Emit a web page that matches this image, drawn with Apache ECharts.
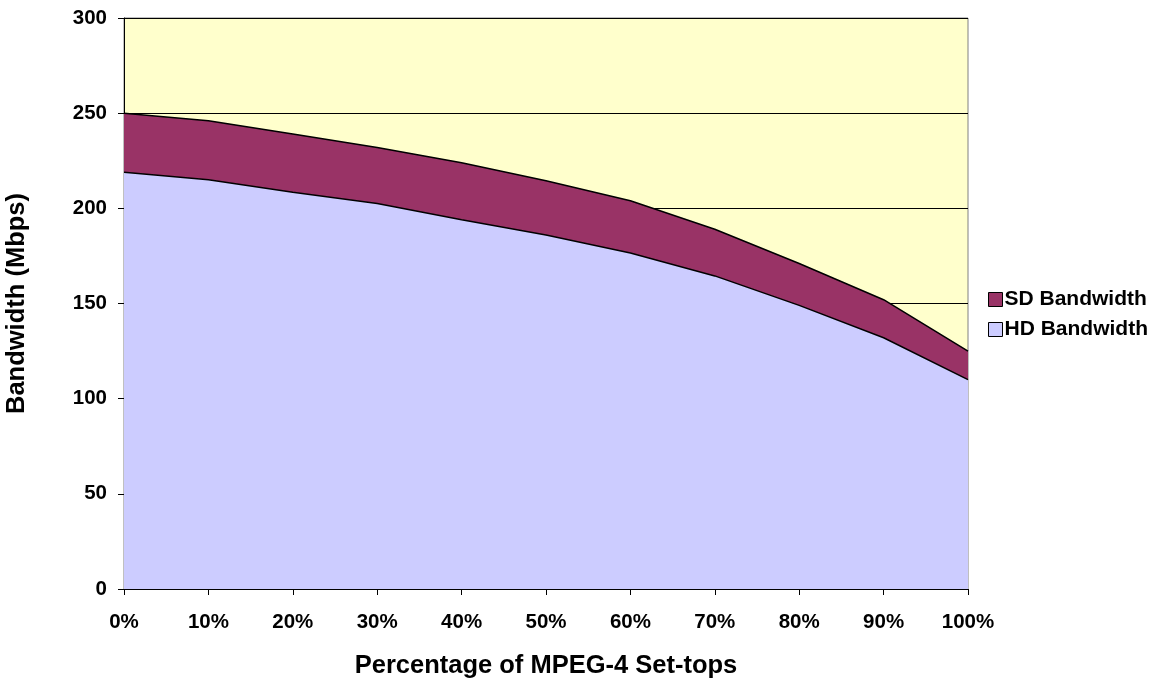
<!DOCTYPE html>
<html>
<head>
<meta charset="utf-8">
<script src="https://cdn.jsdelivr.net/npm/echarts@6/dist/echarts.min.js"></script>
<style>
  html, body { margin: 0; padding: 0; background: #fff; }
  #chart { width: 1158px; height: 690px; }
</style>
</head>
<body>
<div id="chart"></div>
<script>
// Share of MPEG-4 set-tops on the x axis
const categories = ['0%', '10%', '20%', '30%', '40%', '50%', '60%', '70%', '80%', '90%', '100%'];
// HD bandwidth (Mbps), bottom layer of the stack
const hdBandwidth = [219, 215, 208.5, 202.5, 194, 186, 176.5, 164.5, 149, 132, 110];
// SD bandwidth (Mbps), stacked on top of HD
const sdBandwidth = [31, 31, 30.5, 29.5, 30, 28.5, 27.5, 24.5, 22, 20, 15];

const font = 'Liberation Sans, Arial, sans-serif';
const chart = echarts.init(document.getElementById('chart'), null, { renderer: 'canvas' });

chart.setOption({
  animation: false,
  backgroundColor: '#ffffff',
  grid: {
    left: 124, right: 190, top: 18, bottom: 101,
    outerBoundsMode: 'none',
    containLabel: false,
    show: true,
    backgroundColor: '#FFFFCC',
    borderColor: '#808080',
    borderWidth: 1
  },
  legend: {
    orient: 'vertical',
    left: 983, top: 284,
    itemWidth: 14, itemHeight: 14,
    itemGap: 9,
    icon: 'rect',
    textStyle: { fontFamily: font, fontSize: 21, fontWeight: 'bold', color: '#000', lineHeight: 21, padding: [0, 0, 0, -3] },
    data: [
      { name: 'SD Bandwidth', itemStyle: { borderColor: '#000', borderWidth: 1 } },
      { name: 'HD Bandwidth', itemStyle: { borderColor: '#000', borderWidth: 1 } }
    ]
  },
  xAxis: {
    type: 'category',
    data: categories,
    boundaryGap: false,
    name: 'Percentage of MPEG-4 Set-tops',
    nameLocation: 'middle',
    nameGap: 64,
    nameTextStyle: { fontFamily: font, fontSize: 25.5, fontWeight: 'bold', color: '#000' },
    axisLine: { lineStyle: { color: '#000', width: 1 } },
    axisTick: { show: true, length: 6, lineStyle: { color: '#000' } },
    axisLabel: { fontFamily: font, fontSize: 20.5, fontWeight: 'bold', color: '#000', margin: 23, interval: 0 },
    splitLine: { show: false }
  },
  yAxis: {
    type: 'value',
    min: 0, max: 300, interval: 50,
    name: 'Bandwidth (Mbps)',
    nameLocation: 'middle',
    nameGap: 94,
    nameTextStyle: { fontFamily: font, fontSize: 25.5, fontWeight: 'bold', color: '#000' },
    axisLine: { show: true, lineStyle: { color: '#000', width: 1 } },
    axisTick: { show: true, length: 6, lineStyle: { color: '#000' } },
    axisLabel: { fontFamily: font, fontSize: 20.5, fontWeight: 'bold', color: '#000', margin: 17 },
    splitLine: { show: true, lineStyle: { color: '#000', width: 1 } }
  },
  series: [
    {
      name: 'HD Bandwidth',
      type: 'line',
      stack: 'bw',
      data: hdBandwidth,
      symbol: 'none',
      lineStyle: { color: '#000', width: 1.5 },
      itemStyle: { color: '#CCCCFF' },
      areaStyle: { color: '#CCCCFF', opacity: 1 },
      z: 3
    },
    {
      name: 'SD Bandwidth',
      type: 'line',
      stack: 'bw',
      data: sdBandwidth,
      symbol: 'none',
      lineStyle: { color: '#000', width: 1.5 },
      itemStyle: { color: '#993366' },
      areaStyle: { color: '#993366', opacity: 1 },
      z: 2
    }
  ]
});
</script>
</body>
</html>
